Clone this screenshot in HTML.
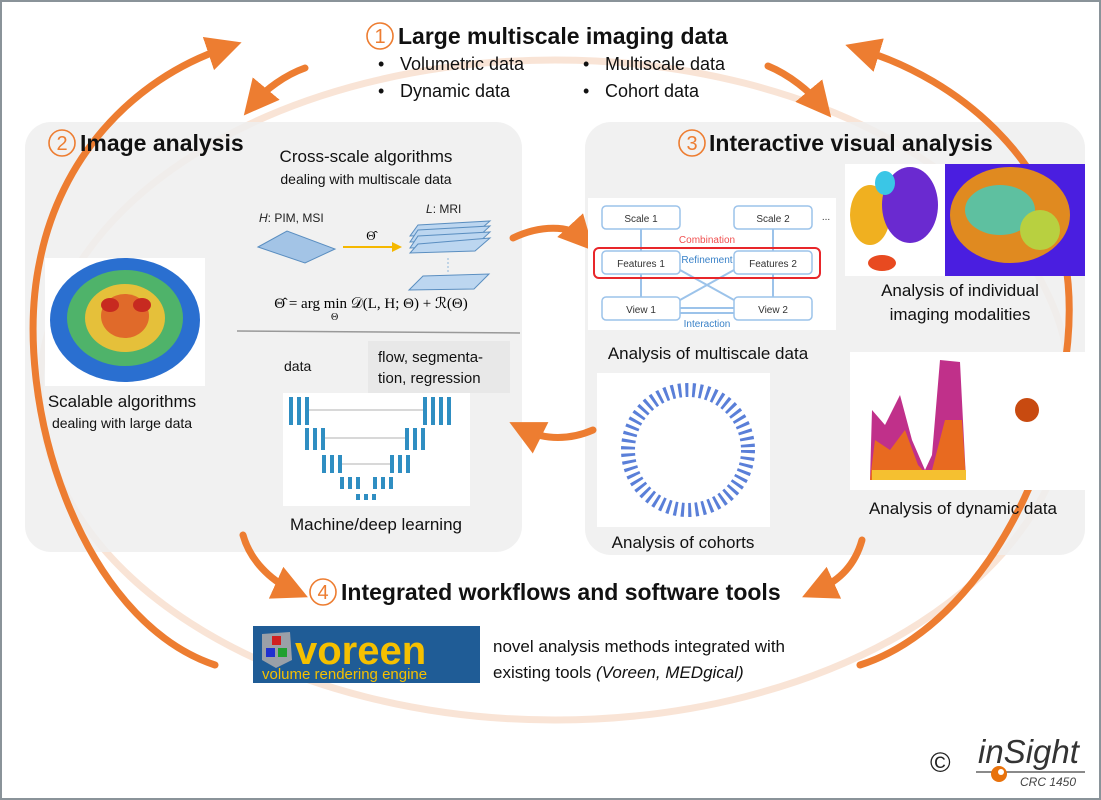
<!DOCTYPE html>
<html><head><meta charset="utf-8"><style>
html,body{margin:0;padding:0;background:#fff}
svg{display:block;font-family:"Liberation Sans",sans-serif}
</style></head><body>
<svg width="1101" height="800" viewBox="0 0 1101 800" xmlns="http://www.w3.org/2000/svg">
<rect x="1" y="1" width="1099" height="798" fill="#fff" stroke="#8a9399" stroke-width="2"/>
<defs>
<marker id="ah" markerWidth="5" markerHeight="5" refX="2.5" refY="2.5" orient="auto" markerUnits="strokeWidth">
<path d="M0,0 L5,2.5 L0,5 z" fill="#ed7d31"/></marker>
<marker id="ay" markerWidth="5" markerHeight="5" refX="3" refY="2.5" orient="auto" markerUnits="strokeWidth">
<path d="M0,0 L5,2.5 L0,5 z" fill="#f5b800"/></marker>
</defs>
<!-- faint ring -->
<ellipse cx="555" cy="390" rx="515" ry="330" fill="none" stroke="#f6d9c4" stroke-width="7" opacity="0.7"/>
<!-- boxes -->
<rect x="25" y="122" width="497" height="430" rx="26" fill="#efefef" opacity="0.85"/>
<rect x="585" y="122" width="500" height="433" rx="26" fill="#efefef" opacity="0.85"/>
<!-- outer orange arrows -->
<g fill="none" stroke="#ed7d31" stroke-width="7" stroke-linecap="round">
<path d="M215,665 C80,620 10,400 40,260 C60,160 130,80 225,48" marker-end="url(#ah)"/>
<path d="M860,665 C1000,620 1090,400 1065,260 C1050,160 960,80 862,50" marker-end="url(#ah)"/>
<path d="M305,68 C285,75 265,90 255,102" marker-end="url(#ah)"/>
<path d="M768,66 C790,75 810,92 820,104" marker-end="url(#ah)"/>
<path d="M513,238 C540,225 570,225 582,238" marker-end="url(#ah)"/>
<path d="M593,430 C570,440 545,440 525,430" marker-end="url(#ah)"/>
<path d="M243,535 C250,560 270,580 292,590" marker-end="url(#ah)"/>
<path d="M862,540 C855,565 840,580 818,590" marker-end="url(#ah)"/>
</g>
<!-- titles -->
<g fill="none" stroke="#ed7d31" stroke-width="1.6">
<circle cx="380" cy="36" r="13"/><circle cx="62" cy="143" r="13"/><circle cx="692" cy="143" r="13"/><circle cx="323" cy="592" r="13"/>
</g>
<g fill="#ed7d31" font-size="20" text-anchor="middle">
<text x="380" y="43">1</text><text x="62" y="150">2</text><text x="692" y="150">3</text><text x="323" y="599">4</text>
</g>
<g font-weight="bold" font-size="23" fill="#111">
<text x="398" y="44">Large multiscale imaging data</text>
<text x="80" y="151">Image analysis</text>
<text x="709" y="151">Interactive visual analysis</text>
<text x="341" y="600">Integrated workflows and software tools</text>
</g>
<g font-size="18" fill="#111">
<text x="378" y="70">•</text><text x="400" y="70">Volumetric data</text>
<text x="378" y="97">•</text><text x="400" y="97">Dynamic data</text>
<text x="583" y="70">•</text><text x="605" y="70">Multiscale data</text>
<text x="583" y="97">•</text><text x="605" y="97">Cohort data</text>
</g>
<!-- image analysis box -->
<text x="366" y="162" font-size="17" text-anchor="middle" fill="#111">Cross-scale algorithms</text>
<text x="366" y="184" font-size="14" text-anchor="middle" fill="#111">dealing with multiscale data</text>
<text x="259" y="222" font-size="12" fill="#222"><tspan font-style="italic">H</tspan>: PIM, MSI</text>
<text x="426" y="213" font-size="12" fill="#222"><tspan font-style="italic">L</tspan>: MRI</text>
<polygon points="258,247 287,231 335,249 305,263" fill="#a3c4e6" stroke="#5a8ec0"/>
<line x1="343" y1="247" x2="398" y2="247" stroke="#f5b800" stroke-width="2" marker-end="url(#ay)"/>
<text x="371" y="240" font-size="13" text-anchor="middle" font-family="Liberation Serif,serif">Θ̂</text>
<g fill="#bcd6f0" stroke="#5a8ec0">
<polygon points="418,225 490,221 475,234 410,236"/>
<polygon points="418,230 490,226 475,240 410,242"/>
<polygon points="418,236 490,232 475,246 410,248"/>
<polygon points="418,244 490,238 475,251 410,253"/>
<polygon points="423,276 489,274 474,289 409,290"/>
</g>
<line x1="448" y1="258" x2="448" y2="272" stroke="#8fb6dc" stroke-dasharray="2,2"/>
<text x="371" y="308" font-size="15" text-anchor="middle" font-family="Liberation Serif,serif">Θ̂ = arg min 𝒟(L, H; Θ) + ℛ(Θ)</text>
<text x="331" y="320" font-size="10" font-family="Liberation Serif,serif">Θ</text>
<line x1="237" y1="331" x2="520" y2="333" stroke="#999" stroke-width="1.5"/>
<!-- brain -->
<rect x="45" y="258" width="160" height="128" fill="#fff"/>
<ellipse cx="125" cy="320" rx="75" ry="62" fill="#2a6fd0"/>
<ellipse cx="125" cy="318" rx="58" ry="48" fill="#4fb36a"/>
<ellipse cx="125" cy="318" rx="40" ry="34" fill="#e5c03a"/>
<ellipse cx="125" cy="316" rx="24" ry="22" fill="#e06a2a"/>
<ellipse cx="110" cy="305" rx="9" ry="7" fill="#c72a20"/><ellipse cx="142" cy="305" rx="9" ry="7" fill="#c72a20"/>
<text x="122" y="407" font-size="17" text-anchor="middle" fill="#111">Scalable algorithms</text>
<text x="122" y="428" font-size="14" text-anchor="middle" fill="#111">dealing with large data</text>
<!-- ML -->
<text x="284" y="371" font-size="14" fill="#111">data</text>
<rect x="368" y="341" width="142" height="52" fill="#e8e8e8"/>
<text x="378" y="362" font-size="15" fill="#111">flow, segmenta-</text>
<text x="378" y="383" font-size="15" fill="#111">tion, regression</text>
<rect x="283" y="393" width="187" height="113" fill="#fff"/>
<g fill="#2f8ec2">
<rect x="289" y="397" width="4" height="28"/><rect x="297" y="397" width="4" height="28"/><rect x="305" y="397" width="4" height="28"/>
<rect x="305" y="428" width="4" height="22"/><rect x="313" y="428" width="4" height="22"/><rect x="321" y="428" width="4" height="22"/>
<rect x="322" y="455" width="4" height="18"/><rect x="330" y="455" width="4" height="18"/><rect x="338" y="455" width="4" height="18"/>
<rect x="340" y="477" width="4" height="12"/><rect x="348" y="477" width="4" height="12"/><rect x="356" y="477" width="4" height="12"/>
<rect x="356" y="494" width="4" height="6"/><rect x="364" y="494" width="4" height="6"/><rect x="372" y="494" width="4" height="6"/>
<rect x="373" y="477" width="4" height="12"/><rect x="381" y="477" width="4" height="12"/><rect x="389" y="477" width="4" height="12"/>
<rect x="390" y="455" width="4" height="18"/><rect x="398" y="455" width="4" height="18"/><rect x="406" y="455" width="4" height="18"/>
<rect x="405" y="428" width="4" height="22"/><rect x="413" y="428" width="4" height="22"/><rect x="421" y="428" width="4" height="22"/>
<rect x="423" y="397" width="4" height="28"/><rect x="431" y="397" width="4" height="28"/><rect x="439" y="397" width="4" height="28"/><rect x="447" y="397" width="4" height="28"/>
</g>
<g stroke="#999" stroke-width="0.8"><line x1="309" y1="410" x2="423" y2="410"/><line x1="325" y1="438" x2="405" y2="438"/><line x1="342" y1="464" x2="390" y2="464"/></g>
<text x="376" y="530" font-size="17" text-anchor="middle" fill="#111">Machine/deep learning</text>
<!-- multiscale diagram -->
<rect x="588" y="198" width="248" height="132" fill="#fff"/>
<g fill="#fff" stroke="#9cc3ea" stroke-width="1.5">
<rect x="602" y="206" width="78" height="23" rx="4"/><rect x="734" y="206" width="78" height="23" rx="4"/>
<rect x="602" y="251" width="78" height="23" rx="4"/><rect x="734" y="251" width="78" height="23" rx="4"/>
<rect x="602" y="297" width="78" height="23" rx="4"/><rect x="734" y="297" width="78" height="23" rx="4"/>
</g>
<g stroke="#9cc3ea" stroke-width="2"><line x1="641" y1="229" x2="641" y2="251"/><line x1="773" y1="229" x2="773" y2="251"/><line x1="641" y1="274" x2="641" y2="297"/><line x1="773" y1="274" x2="773" y2="297"/><line x1="680" y1="270" x2="734" y2="300"/><line x1="680" y1="300" x2="734" y2="270"/><line x1="680" y1="308" x2="734" y2="308"/><line x1="680" y1="313" x2="734" y2="313"/></g>
<rect x="594" y="248" width="226" height="30" rx="5" fill="none" stroke="#e8262a" stroke-width="2"/>
<g font-size="10" fill="#333" text-anchor="middle">
<text x="641" y="222">Scale 1</text><text x="773" y="222">Scale 2</text><text x="826" y="220">...</text>
<text x="641" y="267">Features 1</text><text x="773" y="267">Features 2</text>
<text x="641" y="313">View 1</text><text x="773" y="313">View 2</text>
<text x="707" y="243" fill="#f05050">Combination</text><text x="707" y="263" fill="#3a82c8">Refinement</text><text x="707" y="327" fill="#3a82c8">Interaction</text>
</g>
<text x="708" y="359" font-size="17" text-anchor="middle" fill="#111">Analysis of multiscale data</text>
<!-- cohorts -->
<rect x="597" y="373" width="173" height="154" fill="#fff"/>
<circle cx="688" cy="450" r="60" fill="none" stroke="#5a7fd8" stroke-width="14" stroke-dasharray="3,4"/>
<circle cx="688" cy="450" r="40" fill="#fff"/>
<text x="683" y="548" font-size="17" text-anchor="middle" fill="#111">Analysis of cohorts</text>
<!-- tsne -->
<rect x="845" y="164" width="100" height="112" fill="#fff"/>
<ellipse cx="870" cy="215" rx="20" ry="30" fill="#f0b020"/>
<ellipse cx="910" cy="205" rx="28" ry="38" fill="#6a2ad0"/>
<ellipse cx="885" cy="183" rx="10" ry="12" fill="#3ac6e6"/>
<ellipse cx="882" cy="263" rx="14" ry="8" fill="#e84a20"/>
<rect x="945" y="164" width="140" height="112" fill="#4a1ee0"/>
<ellipse cx="1010" cy="215" rx="60" ry="48" fill="#e08a20"/>
<ellipse cx="1000" cy="210" rx="35" ry="25" fill="#5ec0a0"/>
<ellipse cx="1040" cy="230" rx="20" ry="20" fill="#b8d040"/>
<text x="960" y="296" font-size="17" text-anchor="middle" fill="#111">Analysis of individual</text>
<text x="960" y="320" font-size="17" text-anchor="middle" fill="#111">imaging modalities</text>
<!-- dynamic -->
<rect x="850" y="352" width="235" height="138" fill="#fff"/>
<path d="M870,480 L872,410 L885,425 L900,395 L912,440 L925,470 L932,455 L940,360 L960,362 L966,480 Z" fill="#c0308a"/>
<path d="M870,480 L875,440 L890,450 L905,430 L918,465 L930,478 L945,420 L962,420 L966,480 Z" fill="#e86a20"/>
<rect x="872" y="470" width="94" height="10" fill="#f5c030"/>
<circle cx="1027" cy="410" r="12" fill="#c84a10"/>
<text x="963" y="514" font-size="17" text-anchor="middle" fill="#111">Analysis of dynamic data</text>
<!-- voreen -->
<rect x="253" y="626" width="227" height="57" fill="#1f5c96"/>
<polygon points="262,634 290,632 292,660 276,668 262,660" fill="#9aa0a8"/>
<rect x="272" y="636" width="9" height="9" fill="#d02020"/><rect x="266" y="648" width="9" height="9" fill="#2030d0"/><rect x="278" y="648" width="9" height="9" fill="#20a030"/>
<text x="295" y="664" font-size="40" font-weight="bold" fill="#f5c000">voreen</text>
<text x="262" y="679" font-size="15" fill="#f5c000">volume rendering engine</text>
<text x="493" y="652" font-size="17" fill="#111">novel analysis methods integrated with</text>
<text x="493" y="678" font-size="17" fill="#111">existing tools <tspan font-style="italic">(Voreen, MEDgical)</tspan></text>
<!-- logo -->
<text x="930" y="772" font-size="28" fill="#222">©</text>
<text x="978" y="763" font-size="33" font-style="italic" fill="#333">inSight</text>
<line x1="976" y1="772" x2="1085" y2="772" stroke="#444" stroke-width="1.2"/>
<circle cx="999" cy="774" r="8" fill="#e8720c"/><circle cx="1001" cy="772" r="3" fill="#fff"/>
<text x="1020" y="786" font-size="12" font-style="italic" fill="#444">CRC 1450</text>
</svg>
</body></html>
